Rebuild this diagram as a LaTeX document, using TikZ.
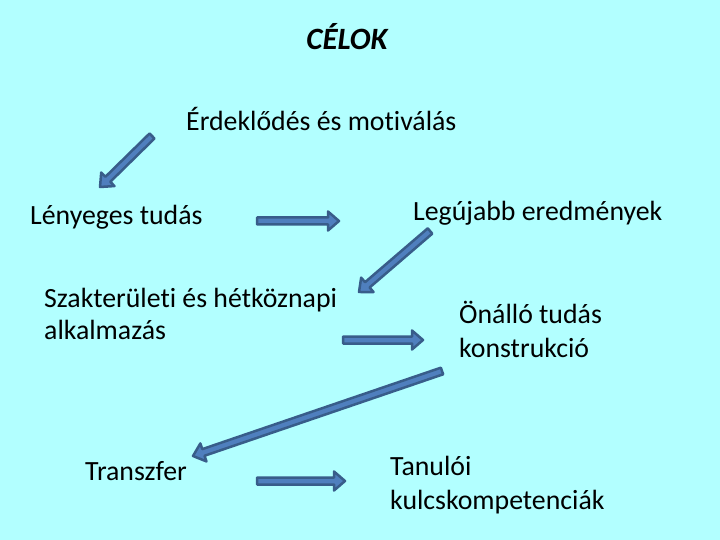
\documentclass[tikz,border=0pt]{standalone}
\usepackage{fontspec}
\setmainfont[Ligatures={NoCommon}]{Carlito}
\usetikzlibrary{calc}
\definecolor{bgc}{RGB}{178,255,255}
\definecolor{arrfill}{RGB}{79,127,190}
\definecolor{arrline}{RGB}{56,93,138}
\tikzset{
  lbl/.style={anchor=base west, inner sep=0pt, font=\fontsize{27.8}{33}\selectfont},
  barrowstyle/.style={draw=arrline, fill=arrfill, line width=2.5pt, line join=round}
}
\newcommand\barrow[2]{%
  \draw[barrowstyle] let \p1=($(#2)-(#1)$), \n1={veclen(\x1,\y1)}, \n2={atan2(\y1,\x1)} in
   [shift={(#1)}, rotate=\n2]
   (0pt,-3.5pt) -- ({\n1*1pt-11pt},-3.5pt) -- ({\n1*1pt-11pt},-9.5pt) -- ({\n1*1pt},0pt)
   -- ({\n1*1pt-11pt},9.5pt) -- ({\n1*1pt-11pt},3.5pt) -- (0pt,3.5pt) -- cycle;}
\begin{document}
\begin{tikzpicture}[x=1pt,y=-1pt]
\fill[bgc] (0,0) rectangle (720,540);
\useasboundingbox (0,0) rectangle (720,540);
\node[lbl, anchor=base, font=\fontsize{31}{33}\selectfont\bfseries\itshape] (title) at (347,50) {CÉLOK};
\node[lbl] (erd) at (186,131) {Érdeklődés és motiválás};
\node[lbl] (leny) at (30,225) {Lényeges tudás};
\node[lbl] (leg) at (413,221) {Legújabb eredmények};
\node[lbl] (szak) at (44,307) {Szakterületi és hétköznapi};
\node[lbl] (alk) at (44,339) {alkalmazás};
\node[lbl] (onal) at (459,323) {Önálló tudás};
\node[lbl] (konst) at (459,357) {konstrukció};
\node[lbl] (trans) at (85,480) {Transzfer};
\node[lbl] (tan) at (390,475) {Tanulói};
\node[lbl] (kulcs) at (390,509) {kulcskompetenciák};
\coordinate (a1s) at (152,136); \coordinate (a1e) at (100,187);
\coordinate (a2s) at (257,221); \coordinate (a2e) at (339,221);
\coordinate (a3s) at (430,231); \coordinate (a3e) at (359,292);
\coordinate (a4s) at (343,340); \coordinate (a4e) at (423,340);
\coordinate (a5s) at (442,371); \coordinate (a5e) at (193,456);
\coordinate (a6s) at (257,481); \coordinate (a6e) at (345,481);
\barrow{a1s}{a1e}
\barrow{a2s}{a2e}
\barrow{a3s}{a3e}
\barrow{a4s}{a4e}
\barrow{a5s}{a5e}
\barrow{a6s}{a6e}
\end{tikzpicture}
\end{document}
